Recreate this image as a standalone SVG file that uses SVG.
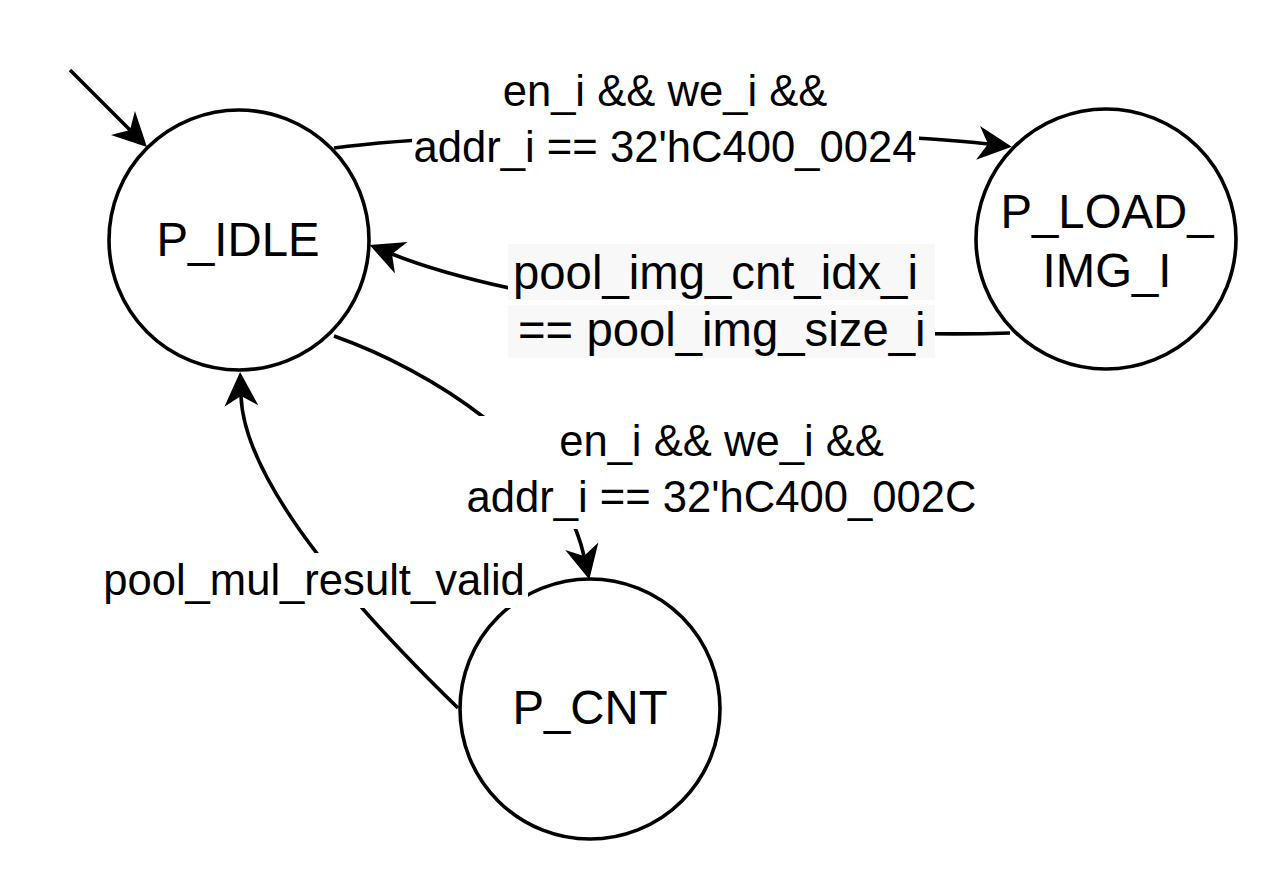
<svg xmlns="http://www.w3.org/2000/svg" width="1280" height="884" viewBox="0 0 1280 884">
<style>
.node{fill:#fff;stroke:#000;stroke-width:3.6}
.nt{font-family:"Liberation Sans",Arial,sans-serif;font-size:47.3px;fill:#000;text-anchor:middle}
.edge{fill:none;stroke:#000;stroke-width:3.6}
.lt{font-family:"Liberation Sans",Arial,sans-serif;font-size:43.6px;fill:#000;text-anchor:middle}
.lt2{font-family:"Liberation Sans",Arial,sans-serif;font-size:47.3px;fill:#000}
.bgw{fill:#fff}
.bgg{fill:#f8f8f8}
</style>
<defs>
<marker id="arr" markerUnits="userSpaceOnUse" viewBox="0 0 34 34" refX="10" refY="17" markerWidth="34" markerHeight="34" orient="auto" overflow="visible">
<path d="M34,17 L0,0 L10,17 L0,34 Z" fill="#000"/>
</marker>
</defs>
<rect width="1280" height="884" fill="#fff"/>
<g id="node-p-idle">
<circle class="node" cx="239" cy="240" r="130"/>
<text class="nt" x="238" y="256">P_IDLE</text>
</g>
<g id="node-p-load-img-i">
<circle class="node" cx="1106" cy="239" r="130"/>
<text class="nt" x="1107" y="228">P_LOAD_</text>
<text class="nt" x="1107" y="287">IMG_I</text>
</g>
<g id="node-p-cnt">
<circle class="node" cx="590" cy="709" r="130"/>
<text class="nt" x="590" y="724">P_CNT</text>
</g>
<g id="connectors">
<path id="e-init" class="edge" d="M70,70 L130,130" marker-end="url(#arr)"/>
<path id="e-idle-load" class="edge" d="M334,148 C480,128 850,128 988,144" marker-end="url(#arr)"/>
<path id="e-load-idle" class="edge" d="M1010,333 C800,340 520,305 392,254" marker-end="url(#arr)"/>
<path id="e-idle-cnt" class="edge" d="M334,336 C430,370 560,450 584,556" marker-end="url(#arr)"/>
<path id="e-cnt-idle" class="edge" d="M458,708 Q245,501 241,396" marker-end="url(#arr)"/>
<g id="label-idle-load">
<rect class="bgw" x="412" y="76" width="507" height="104"/>
<text class="lt" x="665" y="106">en_i &amp;&amp; we_i &amp;&amp;</text>
<text class="lt" x="665" y="162">addr_i == 32'hC400_0024</text>
</g>
<g id="label-load-idle">
<rect class="bgw" x="508" y="244" width="427" height="114"/>
<rect class="bgg" x="508" y="244" width="427" height="56"/>
<rect class="bgg" x="508" y="305" width="427" height="53"/>
<text class="lt2" x="513" y="289">pool_img_cnt_idx_i</text>
<text class="lt2" x="518" y="346">== pool_img_size_i</text>
</g>
<g id="label-idle-cnt">
<rect class="bgw" x="462" y="416" width="518" height="113"/>
<text class="lt" x="721.5" y="456">en_i &amp;&amp; we_i &amp;&amp;</text>
<text class="lt" x="721.5" y="512">addr_i == 32'hC400_002C</text>
</g>
<g id="label-cnt-idle">
<rect class="bgw" x="100" y="553" width="428" height="55"/>
<text class="lt" x="314" y="595">pool_mul_result_valid</text>
</g>
</g>
</svg>
